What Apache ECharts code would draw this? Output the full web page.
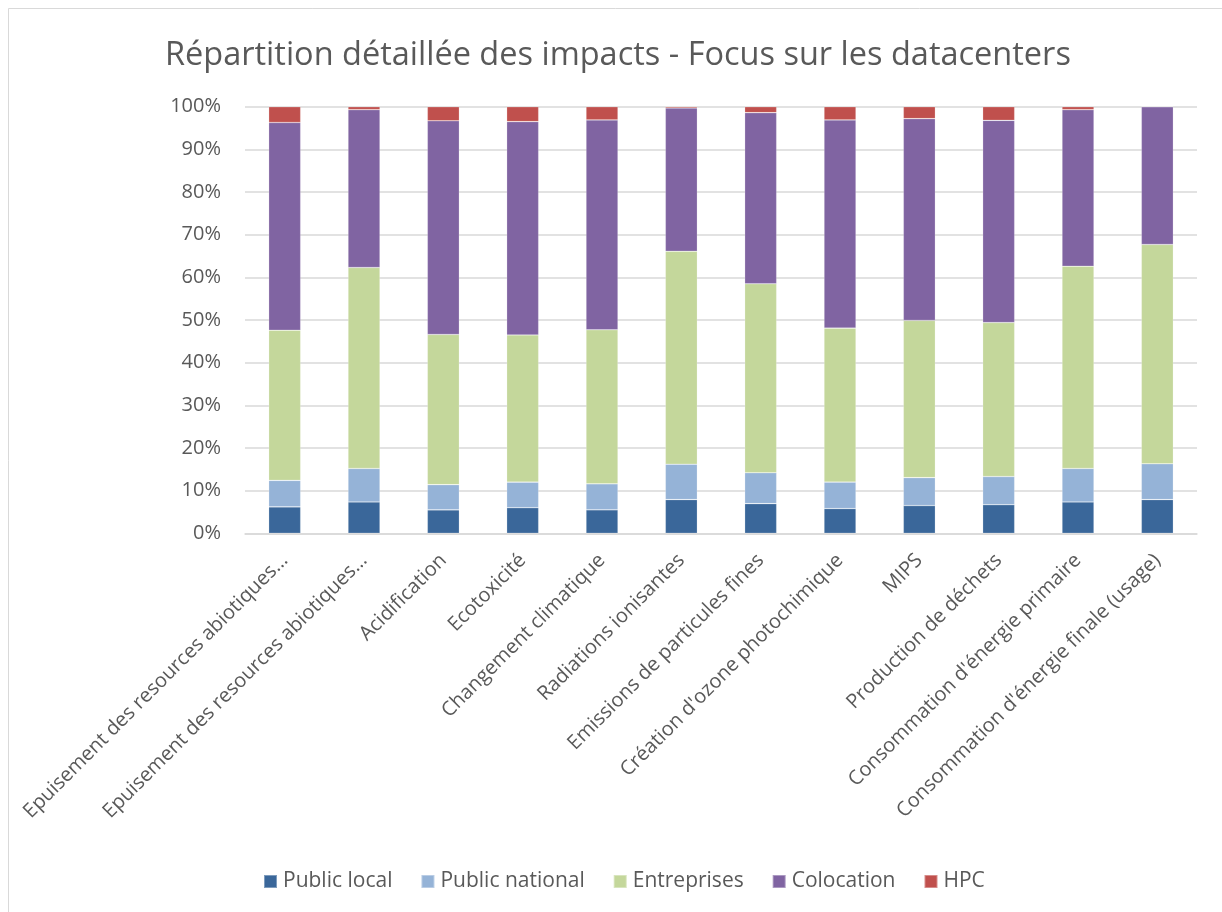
<!DOCTYPE html>
<html>
<head>
<meta charset="utf-8">
<script src="https://cdn.jsdelivr.net/npm/echarts@6/dist/echarts.min.js"></script>
<style>
  html, body { margin: 0; padding: 0; background: #fff; }
  #chart { width: 1222px; height: 912px; }
</style>
</head>
<body>
<div id="chart"></div>
<script>
const categories = [
  "Epuisement des resources abiotiques…",
  "Epuisement des resources abiotiques…",
  "Acidification",
  "Ecotoxicité",
  "Changement climatique",
  "Radiations ionisantes",
  "Emissions de particules fines",
  "Création d'ozone photochimique",
  "MIPS",
  "Production de déchets",
  "Consommation d'énergie primaire",
  "Consommation d'énergie finale (usage)"
];
const publicLocal    = [6.2, 7.35, 5.5, 6.0, 5.5, 7.9, 6.95, 5.8, 6.5, 6.7, 7.35, 7.9];
const publicNational = [6.2, 7.85, 5.9, 6.0, 6.1, 8.3, 7.25, 6.2, 6.55, 6.6, 7.85, 8.4];
const entreprises    = [35.2, 47.1, 35.2, 34.5, 36.1, 49.9, 44.3, 36.1, 36.85, 36.1, 47.4, 51.4];
const colocation     = [48.7, 37.0, 50.1, 50.0, 49.2, 33.6, 40.1, 48.8, 47.3, 47.4, 36.7, 32.3];
const hpc            = [3.7, 0.7, 3.3, 3.5, 3.1, 0.3, 1.4, 3.1, 2.8, 3.2, 0.7, 0.0];
const seriesNames = ["Public local", "Public national", "Entreprises", "Colocation", "HPC"];
const seriesColors = ["#3A679A", "#95B3D7", "#C4D79B", "#8064A2", "#C0504D"];
const yTicks = { min: 0, max: 100, interval: 10 };

const dataSets = [publicLocal, publicNational, entreprises, colocation, hpc];
const FONT = "'Open Sans', sans-serif";
const TXT = "#595959";

const chart = echarts.init(document.getElementById('chart'), null, { renderer: 'canvas' });
chart.setOption({
  backgroundColor: '#ffffff',
  animation: false,
  graphic: [{
    type: 'rect',
    shape: { x: 8.5, y: 8.5, width: 1240, height: 940 },
    style: { fill: 'none', stroke: '#d9d9d9', lineWidth: 1 },
    silent: true, z: -10
  }],
  title: {
    text: 'Répartition détaillée des impacts - Focus sur les datacenters',
    left: 160,
    top: 34,
    textStyle: { fontFamily: FONT, fontSize: 32.5, fontWeight: 'normal', color: TXT }
  },
  legend: {
    bottom: 15,
    left: 258,
    itemWidth: 13,
    itemHeight: 13,
    itemGap: 28,
    icon: 'rect',
    textStyle: { fontFamily: FONT, fontSize: 21, color: TXT, padding: [0, 0, 0, 1] },
    data: seriesNames
  },
  grid: { left: 245, right: 25, top: 106.7, bottom: 378.7, containLabel: false },
  xAxis: {
    type: 'category',
    data: categories,
    axisTick: { show: false },
    axisLine: { lineStyle: { color: '#d9d9d9', width: 1.5 } },
    axisLabel: {
      interval: 0, rotate: 45, margin: 24,
      fontFamily: FONT, fontSize: 20, color: TXT
    }
  },
  yAxis: {
    type: 'value',
    min: yTicks.min, max: yTicks.max, interval: yTicks.interval,
    axisLine: { show: false },
    axisTick: { show: false },
    splitLine: { lineStyle: { color: '#d9d9d9', width: 1.5 } },
    axisLabel: {
      formatter: '{value}%', margin: 24,
      fontFamily: FONT, fontSize: 20, color: TXT
    }
  },
  series: seriesNames.map((name, i) => ({
    name: name,
    type: 'bar',
    stack: 'total',
    barWidth: 32,
    itemStyle: { color: seriesColors[i], borderColor: 'rgba(255,255,255,0.35)', borderWidth: 0.6 },
    data: dataSets[i]
  }))
});
</script>
</body>
</html>
